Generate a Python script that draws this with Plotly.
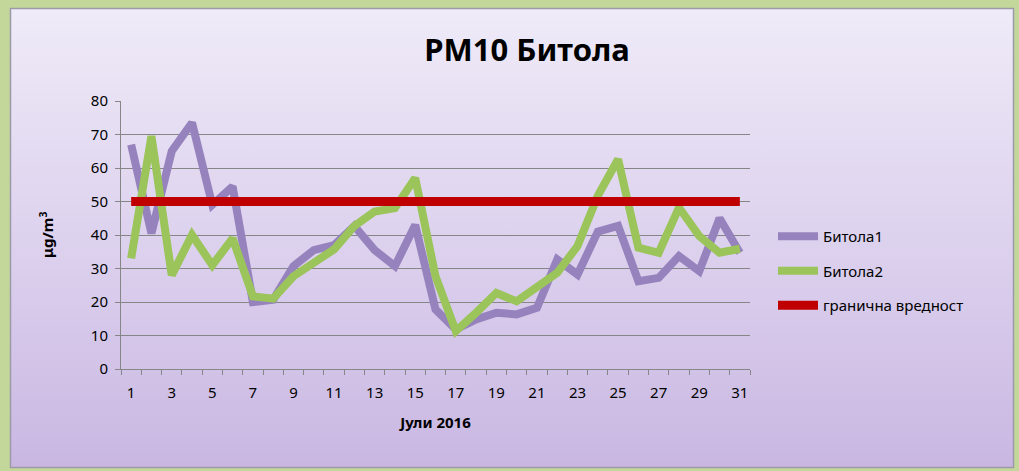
import base64
import plotly.graph_objects as go

days = list(range(1, 32))
bitola1 = [67, 40.5, 65, 73.5, 49, 54.5, 20, 20.7, 30.7, 35.5, 37, 42.7, 35.5, 30.7, 43,
           17.8, 11.8, 14.8, 16.8, 16.3, 18.3, 32.7, 28.2, 41, 42.7, 26.2, 27.2, 33.7, 29.2, 45, 34.7]
bitola2 = [33, 69.5, 28, 40, 31, 39, 21.7, 21, 27.7, 32, 35.7, 42.7, 47, 48, 57,
           27.7, 11.3, 16.8, 22.7, 20.2, 24.7, 28.7, 36.7, 51.7, 62.6, 36.2, 34.7, 48.2, 39.7, 34.7, 35.9]
limit = [50] * 31
xticks = [1, 3, 5, 7, 9, 11, 13, 15, 17, 19, 21, 23, 25, 27, 29, 31]
yticks = [0, 10, 20, 30, 40, 50, 60, 70, 80]

W, H = 1019, 471
L, R, T, B = 121, 269, 101, 102
pw, ph = W - L - R, H - T - B

svg = f'''<svg xmlns="http://www.w3.org/2000/svg" width="{W}" height="{H}" viewBox="0 0 {W} {H}" preserveAspectRatio="none">
<defs><linearGradient id="g" x1="0" y1="0" x2="0" y2="1">
<stop offset="0" stop-color="#efebf8"/><stop offset="0.5" stop-color="#ddd2ee"/><stop offset="1" stop-color="#c9b7e2"/>
</linearGradient></defs>
<rect x="0" y="0" width="{W}" height="{H}" fill="#c4d79b"/>
<rect x="10.5" y="8.5" width="1003" height="459" fill="url(#g)" stroke="#9c9aa8" stroke-width="1.5"/>
</svg>'''
src = "data:image/svg+xml;base64," + base64.b64encode(svg.encode()).decode()

font = "Noto Sans"
fig = go.Figure()
fig.add_trace(go.Scatter(x=days, y=bitola1, mode="lines", name="Битола1", legendgroup="a",
                         line=dict(color="#9683bd", width=8)))
fig.add_trace(go.Scatter(x=days, y=bitola2, mode="lines", name="Битола2", legendgroup="b",
                         line=dict(color="#9bc45a", width=8)))
fig.add_trace(go.Scatter(x=days, y=limit, mode="lines", name="гранична вредност", legendgroup="c",
                         line=dict(color="#c00000", width=9)))

fig.update_layout(
    width=W, height=H,
    margin=dict(l=L, r=R, t=T, b=B),
    paper_bgcolor="#c4d79b",
    plot_bgcolor="rgba(0,0,0,0)",
    images=[dict(source=src, xref="paper", yref="paper",
                 x=-L / pw, y=1 + T / ph, sizex=W / pw, sizey=H / ph,
                 xanchor="left", yanchor="top", sizing="stretch", layer="below")],
    title=dict(text="<b>PM10 Битола</b>", x=527 / W, xanchor="center",
               y=1 - 50 / H, yanchor="middle",
               font=dict(family=font, size=31, color="black")),
    xaxis=dict(range=[0.5, 31.5], tickmode="array", tickvals=xticks,
               ticktext=[str(v) for v in xticks], ticks="",
               showgrid=False, zeroline=False, showline=True, linecolor="#868686", linewidth=1,
               minor=dict(ticks="outside", tick0=0.5, dtick=1, ticklen=5, tickcolor="#868686", showgrid=False),
               tickfont=dict(family=font, size=15, color="black"), ticklabelstandoff=10,
               title=dict(text="<b>Јули 2016</b>", font=dict(family=font, size=15, color="black"), standoff=16)),
    yaxis=dict(range=[0, 80], tickvals=yticks, ticks="outside", ticklen=5, tickcolor="#868686",
               showgrid=True, gridcolor="#868686", gridwidth=1, zeroline=False,
               showline=True, linecolor="#868686", linewidth=1,
               tickfont=dict(family=font, size=15, color="black"), ticklabelstandoff=4),
    legend=dict(x=(773 - L) / pw, y=1 - (220 - T) / ph, xanchor="left", yanchor="top",
                bgcolor="rgba(0,0,0,0)", itemwidth=40, tracegroupgap=12,
                font=dict(family=font, size=15, color="black")),
    annotations=[dict(text="<b>μg/m<sup>3</sup></b>", textangle=-90, xref="paper", yref="paper",
                      x=(46 - L) / pw, y=0.5, xanchor="center", yanchor="middle", showarrow=False,
                      font=dict(family=font, size=15, color="black"))],
)

fig.write_html("out.html", config={"displayModeBar": False},
               post_script="document.body.style.margin='0';document.body.style.background='#c4d79b';")
